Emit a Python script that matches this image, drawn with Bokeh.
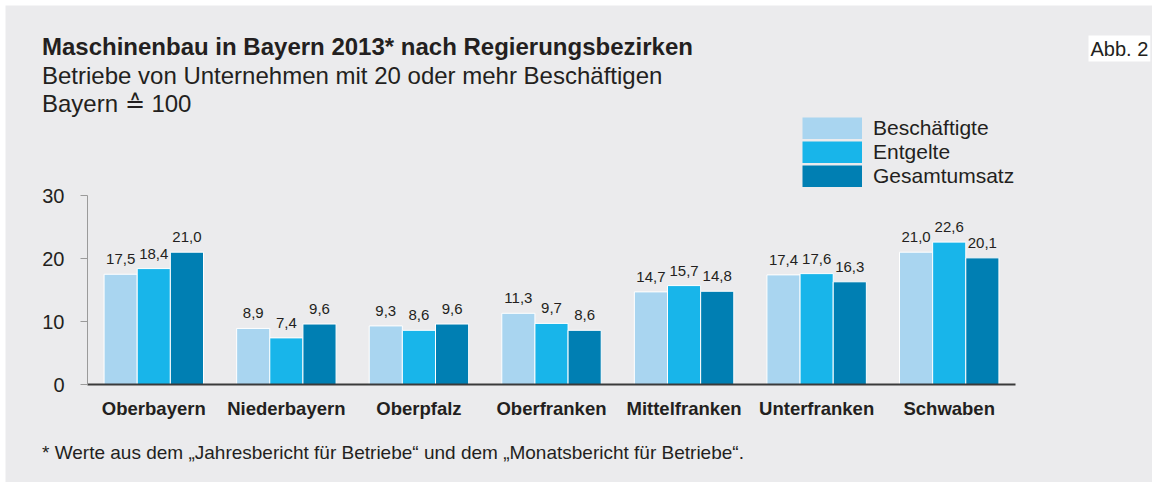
from bokeh.plotting import figure
from bokeh.models import (ColumnDataSource, Range1d, FixedTicker, Label, Legend,
                          LegendItem)
from bokeh.transform import dodge
from bokeh.core.properties import value
from bokeh.embed import file_html
from bokeh.resources import INLINE

# ---------------- data ----------------
regions = ["Oberbayern", "Niederbayern", "Oberpfalz", "Oberfranken",
           "Mittelfranken", "Unterfranken", "Schwaben"]
beschaeftigte = [17.5, 8.9, 9.3, 11.3, 14.7, 17.4, 21.0]
entgelte = [18.4, 7.4, 8.6, 9.7, 15.7, 17.6, 22.6]
gesamtumsatz = [21.0, 9.6, 9.6, 8.6, 14.8, 16.3, 20.1]
series_names = ["Beschäftigte", "Entgelte", "Gesamtumsatz"]
y_ticks = [0, 10, 20, 30]

title_text = "Maschinenbau in Bayern 2013* nach Regierungsbezirken"
subtitle_1 = "Betriebe von Unternehmen mit 20 oder mehr Beschäftigen"
subtitle_2 = "Bayern ≙ 100"
footnote = "* Werte aus dem „Jahresbericht für Betriebe“ und dem „Monatsbericht für Betriebe“."
fig_tag = "Abb. 2"

# ---------------- style / layout ----------------
FONT = "Liberation Sans"
BG = "#ebebed"
TXT = "#231f20"
colors = ["#a9d5f0", "#18b5ea", "#007fb3"]
offsets = [-0.25, 0.0, 0.25]

W, H = 1152, 482
FRAME_L, FRAME_T = 5, 5          # white strip at top/left
AX_X0, AX_X1 = 87, 1015          # pixel extent of the category axis
AX_Y0, AX_Y30 = 384, 195         # pixel position of y=0 and y=30
CAT_W = (AX_X1 - AX_X0) / len(regions)
PX_UNIT = (AX_Y0 - AX_Y30) / 30.0
BASE_SHIFT = 0.33                # empirical baseline correction (em)


def dx(px):
    return (px - AX_X0) / CAT_W


def dy(py):
    return (AX_Y0 - py) / PX_UNIT


def fmt(v):
    return f"{v:.1f}".replace(".", ",")


centers = [i + 0.5 for i in range(len(regions))]
source = ColumnDataSource(data=dict(
    xc=centers, region=regions,
    s0=beschaeftigte, s1=entgelte, s2=gesamtumsatz,
    l0=[fmt(v) for v in beschaeftigte],
    l1=[fmt(v) for v in entgelte],
    l2=[fmt(v) for v in gesamtumsatz],
))

p = figure(x_range=Range1d(dx(FRAME_L), dx(W)), y_range=Range1d(dy(H), dy(FRAME_T)),
           width=W, height=H, output_backend="svg", toolbar_location=None,
           title=None, min_border_left=FRAME_L, min_border_top=FRAME_T,
           min_border_right=0, min_border_bottom=0)
p.background_fill_color = BG
p.border_fill_color = "white"
p.outline_line_color = None
p.xgrid.visible = False
p.ygrid.visible = False

# bars + value labels
for i in range(3):
    xs = dodge("xc", offsets[i])
    p.vbar(x=xs, top=f"s{i}", width=0.25, source=source,
           fill_color=colors[i], line_color="white", line_width=1)
    p.text(x=xs, y=f"s{i}", text=f"l{i}", source=source,
           text_align="center", text_baseline="alphabetic", y_offset=-15,
           text_font=value(FONT), text_font_size="15px", text_color=TXT)

# axes (fixed inside the frame)
yax = p.yaxis[0]
yax.fixed_location = 0
yax.bounds = (0, 30)
yax.ticker = FixedTicker(ticks=y_ticks)
yax.axis_line_color = "#9a9a9a"
yax.major_tick_line_color = "#9a9a9a"
yax.major_tick_out = 7
yax.major_tick_in = 0
yax.minor_tick_line_color = None
yax.major_label_standoff = 16
yax.major_label_text_font = FONT
yax.major_label_text_font_size = "20px"
yax.major_label_text_color = TXT

xax = p.xaxis[0]
xax.fixed_location = 0
xax.bounds = (0, len(regions))
xax.ticker = FixedTicker(ticks=centers)
xax.major_label_overrides = {c: r for c, r in zip(centers, regions)}
xax.axis_line_color = "#3a3a3a"
xax.axis_line_width = 2
xax.major_tick_line_color = None
xax.minor_tick_line_color = None
xax.major_label_standoff = 7
xax.major_label_text_font = FONT
xax.major_label_text_font_style = "bold"
xax.major_label_text_font_size = "18.5px"
xax.major_label_text_color = TXT

# legend (thick butt-capped lines give solid swatches; the lines hold no drawable point)
nan = float("nan")
items = []
for i in range(3):
    r = p.line(x=[nan], y=[nan], line_color=colors[i], line_width=22, line_cap="butt")
    items.append(LegendItem(label=series_names[i], renderers=[r]))
legend = Legend(items=items, location=(802 - FRAME_L, H - (115.5 + 72)),
                orientation="vertical",
                glyph_width=60, glyph_height=22, label_height=22,
                label_standoff=11, spacing=0, padding=0, margin=0,
                border_line_color=None, background_fill_alpha=0,
                label_text_font=FONT, label_text_font_size="21px",
                label_text_color=TXT, label_text_baseline="middle")
p.add_layout(legend)


# texts, placed at page pixel positions (baselines) converted to data coordinates
def add_label(text, px, py, size, style="normal", align="left", **kw):
    p.add_layout(Label(x=dx(px), y=dy(py), text=text, y_offset=round(BASE_SHIFT * size),
                       text_font=FONT, text_font_size=f"{size}px", text_font_style=style,
                       text_color=TXT, text_align=align, text_baseline="alphabetic",
                       **kw))


add_label(title_text, 41.5, 53.5, 24, "bold")
add_label(subtitle_1, 41.5, 82.5, 24)
add_label(subtitle_2, 41.5, 110.5, 24)
add_label(footnote, 41.5, 458, 19)
add_label(fig_tag, 1088, 55, 20, background_fill_color="white", padding=2)

open("out.html", "w").write(file_html(p, INLINE))
